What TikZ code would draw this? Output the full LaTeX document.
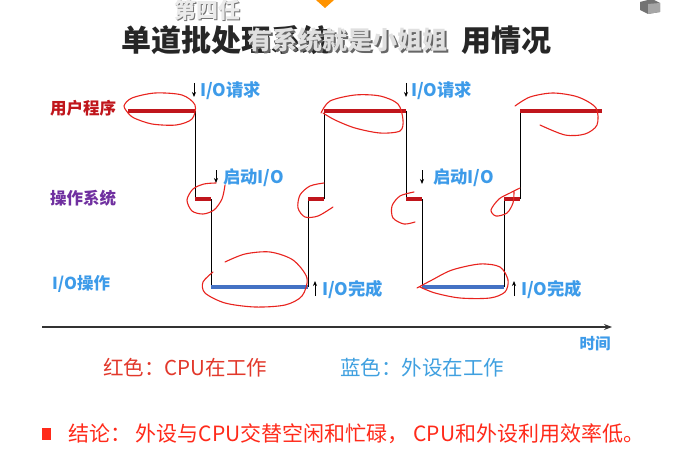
\documentclass[tikz,border=0pt]{standalone}
\usepackage{fontspec}
\setmainfont{Noto Sans CJK SC}
\usetikzlibrary{arrows.meta}
\definecolor{cpured}{HTML}{C0161C}
\definecolor{ospurple}{HTML}{7030A0}
\definecolor{ioblue}{HTML}{3D9BE9}
\definecolor{ioline}{HTML}{4472C4}
\definecolor{inkred}{HTML}{E8231E}
\definecolor{legred}{HTML}{E2382B}
\definecolor{legblue}{HTML}{3FA0E0}
\definecolor{endred}{HTML}{FF2A1A}
\begin{document}
\begin{tikzpicture}[x=1pt,y=-1pt,
  rowlabel/.style={anchor=west,inner sep=0pt,font=\fontsize{16.5}{16.5}\selectfont\bfseries},
  tag/.style={anchor=west,inner sep=0pt,text=ioblue,font=\fontsize{17.3}{17.3}\selectfont\bfseries},
  cpuseg/.style={cpured,line width=3.5pt},
  ioseg/.style={ioline,line width=3.5pt},
  link/.style={black,line width=0.8pt},
  evarrow/.style={black,line width=0.8pt,-{Stealth[length=5pt,width=4pt]}},
  hand/.style={inkred,line width=1.1pt,line cap=round,line join=round},
  legend/.style={anchor=west,inner sep=0pt,font=\fontsize{20.5}{20.5}\selectfont}]
\useasboundingbox[fill=white] (0,0) rectangle (680,468);

% title with the caption overlay
\node[anchor=west,inner sep=0pt,font=\fontsize{30}{30}\selectfont\bfseries,text=black!85] (title1) at (121,40) {单道批处理系统};
\node[anchor=west,inner sep=0pt,font=\fontsize{30}{30}\selectfont\bfseries,text=black!85] (title2) at (461,40) {用情况};
\node[anchor=west,inner sep=0pt,font=\fontsize{25}{25}\selectfont\bfseries,text=black!60] at (249,42) {有系统就是小姐姐};
\node[anchor=west,inner sep=0pt,font=\fontsize{25}{25}\selectfont\bfseries,text=black!12] (overlay) at (247,40) {有系统就是小姐姐};
\node[anchor=west,inner sep=0pt,font=\fontsize{22}{22}\selectfont\bfseries,text=black!55] at (175,11) {第四任};
\node[anchor=west,inner sep=0pt,font=\fontsize{22}{22}\selectfont\bfseries,text=black!8] (ep) at (174,10) {第四任};
\fill[orange!85!yellow] (316,0) -- (334,0) -- (325,8) -- cycle;
\fill[black!55] (640,2) -- (652,-1) -- (660,3) -- (660,12) -- (648,14) -- (640,10) -- cycle;
\fill[black!35] (648,4) -- (660,3) -- (660,12) -- (648,14) -- cycle;

% row labels
\node[rowlabel,text=cpured] (user) at (50,108) {用户程序};
\node[rowlabel,text=ospurple] (os) at (50,198) {操作系统};
\node[rowlabel,text=ioblue] (io) at (52,284) {I/O操作};

% corner points of the timeline
\coordinate (u1a) at (128,111); \coordinate (u1b) at (195,111);
\coordinate (o1a) at (195,199); \coordinate (o1b) at (211,199);
\coordinate (i1a) at (211,287); \coordinate (i1b) at (308,287);
\coordinate (o2a) at (308,199); \coordinate (o2b) at (324,199);
\coordinate (u2a) at (324,111); \coordinate (u2b) at (406,111);
\coordinate (o3a) at (406,199); \coordinate (o3b) at (422,199);
\coordinate (i2a) at (422,287); \coordinate (i2b) at (504,287);
\coordinate (o4a) at (504,199); \coordinate (o4b) at (520,199);
\coordinate (u3a) at (520,111); \coordinate (u3b) at (602,111);

% switches between the rows
\draw[link] (u1b) -- (o1a) (o1b) -- (i1a) (i1b) -- (o2a) (o2b) -- (u2a)
            (u2b) -- (o3a) (o3b) -- (i2a) (i2b) -- (o4a) (o4b) -- (u3a);
% busy intervals
\draw[cpuseg] (u1a) -- (u1b) (o1a) -- (o1b) (o2a) -- (o2b) (u2a) -- (u2b)
              (o3a) -- (o3b) (o4a) -- (o4b) (u3a) -- (u3b);
\draw[ioseg] (i1a) -- (i1b) (i2a) -- (i2b);

% event markers
\coordinate (r1t) at (194,83); \coordinate (r1h) at (194,97);
\draw[evarrow] (r1t) -- (r1h);
\node[tag] (req1) at (200,91) {I/O请求};
\coordinate (r2t) at (406,83); \coordinate (r2h) at (406,97);
\draw[evarrow] (r2t) -- (r2h);
\node[tag] (req2) at (411,91) {I/O请求};
\coordinate (s1t) at (216,170); \coordinate (s1h) at (216,183);
\draw[evarrow] (s1t) -- (s1h);
\node[tag] (start1) at (223,178) {启动I/O};
\coordinate (s2t) at (422,170); \coordinate (s2h) at (422,184);
\draw[evarrow] (s2t) -- (s2h);
\node[tag] (start2) at (433,178) {启动I/O};
\coordinate (d1t) at (315,296); \coordinate (d1h) at (315,281);
\draw[evarrow] (d1t) -- (d1h);
\node[tag] (done1) at (322,290) {I/O完成};
\coordinate (d2t) at (514,296); \coordinate (d2h) at (514,281);
\draw[evarrow] (d2t) -- (d2h);
\node[tag] (done2) at (521,290) {I/O完成};

% time axis
\coordinate (t0) at (42,327); \coordinate (t1) at (612,327);
\draw[black!80,line width=1.2pt,-{Stealth[length=8pt,width=6pt]}] (t0) -- (t1);
\node[tag,anchor=center,font=\fontsize{15.5}{15.5}\selectfont\bfseries] (time) at (595,344) {时间};

% hand-drawn marks
\draw[hand] plot[smooth] coordinates {(129,114) (124,106) (132,98) (155,93) (182,95) (195,105) (192,119) (176,125) (152,124) (134,118) (128,113)};
\draw[hand] plot[smooth] coordinates {(216,183) (204,184) (193,189) (187,200) (192,211) (203,214) (214,210) (222,199) (225,185)};
\draw[hand] plot[smooth] coordinates {(321,113) (330,101) (355,95) (380,96) (398,104) (403,120) (400,131) (380,133) (355,128) (335,120) (323,113)};
\draw[hand] plot[smooth] coordinates {(324,183) (310,186) (300,195) (298,208) (305,217) (318,216) (333,207)};
\draw[hand] plot[smooth] coordinates {(414,192) (400,196) (392,206) (393,218) (404,224) (415,222)};
\draw[hand] plot[smooth] coordinates {(515,106) (530,97) (553,93) (578,97) (596,108) (597,125) (585,134) (565,135) (540,125)};
\draw[hand] plot[smooth] coordinates {(520,188) (510,193) (499,199) (491,210) (496,216) (507,213) (513,203) (514,192)};
\draw[hand] plot[smooth] coordinates {(225,262) (245,254) (270,252) (293,260) (307,278) (302,296) (285,305) (255,307) (225,303) (205,293) (203,282) (213,272)};
\draw[hand] plot[smooth] coordinates {(417,288) (432,280) (452,270) (480,264) (500,267) (508,280) (505,292) (490,298) (460,298) (435,293) (420,287)};

% legend
\node[legend,text=legred] (legcpu) at (103,368) {红色：CPU在工作};
\node[legend,text=legblue] (legio) at (340,368) {蓝色：外设在工作};

% conclusion
\fill[endred] (42,428) rectangle (51,440);
\node[legend,text=endred,font=\fontsize{21}{21}\selectfont] (concl) at (68,434) {结论：\ 外设与CPU交替空闲和忙碌，\ CPU和外设利用效率低。};
\end{tikzpicture}
\end{document}
